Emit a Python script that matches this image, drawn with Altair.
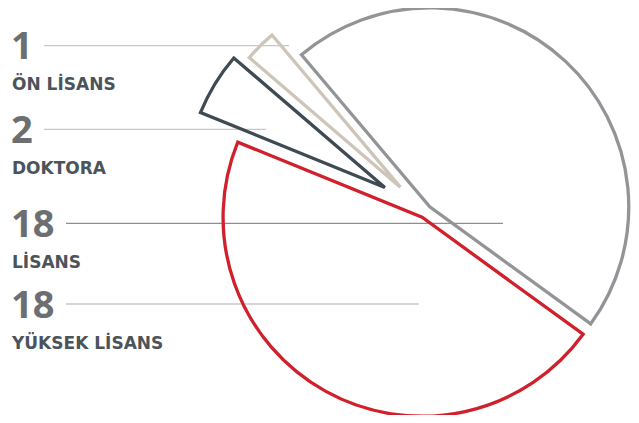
import math
import altair as alt
import pandas as pd

# ---------------- data ----------------
CATEGORIES = ["ÖN LİSANS", "DOKTORA", "LİSANS", "YÜKSEK LİSANS"]
VALUES = [1, 2, 18, 18]
VALUE_LABELS = ["1", "2", "18", "18"]

# ---------------- style ----------------
PIE_ORDER = ["YÜKSEK LİSANS", "DOKTORA", "ÖN LİSANS", "LİSANS"]  # clockwise from start angle
SLICE_COLORS = ["#cdc5b9", "#3f4a52", "#939497", "#d0202b"]      # per category
EXPLODE = [35, 47, 7, 6]                                          # per category, px
START_DEG = 126
PAD_TOP = 2
CX, CY, R = 417, 204 - PAD_TOP, 199
ROW_Y = [y - PAD_TOP for y in [37.7, 121.3, 215.3, 296]]
LINE_X0 = [36, 36, 58, 58]
LINE_X1 = [281, 258, 495, 411]
LINE_COLORS = ["#c8c8c8", "#c8c8c8", "#8e8e8e", "#c8c8c8"]
W, H = 623, 407 - PAD_TOP

total = sum(VALUES)
a0 = math.radians(START_DEG)

# pie table (order along the circle)
rows = []
cum = 0
for cat in PIE_ORDER:
    i = CATEGORIES.index(cat)
    v = VALUES[i]
    t0, t1 = cum, cum + v
    cum = t1
    mid = a0 + (t0 + t1) / 2 / total * 2 * math.pi
    rows.append({
        "cat": cat, "value": v, "t0": t0, "t1": t1,
        "px": CX + EXPLODE[i] * math.sin(mid),
        "py": CY - EXPLODE[i] * math.cos(mid),
    })
pie = pd.DataFrame(rows)

labels = pd.DataFrame({
    "cat": CATEGORIES,
    "num": VALUE_LABELS,
    "ly": ROW_Y,
    "x0": LINE_X0,
    "x1": LINE_X1,
    "lc": LINE_COLORS,
})

lines = alt.Chart(labels).mark_rule(strokeWidth=1.3).encode(
    x=alt.X("x0:Q", scale=None, axis=None),
    x2="x1:Q",
    y=alt.Y("ly:Q", scale=None, axis=None),
    color=alt.Color("lc:N", scale=None, legend=None),
)

arcs = alt.Chart(pie).mark_arc(
    outerRadius=R, fill="white", fillOpacity=0, strokeWidth=3.3, strokeJoin="miter"
).encode(
    theta=alt.Theta("t0:Q", scale=alt.Scale(domain=[0, total], range=[a0, a0 + 2 * math.pi])),
    theta2="t1:Q",
    x=alt.X("px:Q", scale=None, axis=None),
    y=alt.Y("py:Q", scale=None, axis=None),
    stroke=alt.Stroke("cat:N", scale=alt.Scale(domain=CATEGORIES, range=SLICE_COLORS), legend=None),
)

nums = alt.Chart(labels).mark_text(
    align="left", baseline="alphabetic", dy=13.5,
    font="Open Sans", fontSize=38, fontWeight="bold", color="#6d6e71",
).encode(
    x=alt.value(3),
    y=alt.Y("ly:Q", scale=None, axis=None),
    text="num:N",
)

cats = alt.Chart(labels).mark_text(
    align="left", baseline="alphabetic", dy=44.5,
    font="DejaVu Sans", fontSize=17, fontWeight="bold", color="#4b535b",
).encode(
    x=alt.value(4),
    y=alt.Y("ly:Q", scale=None, axis=None),
    text="cat:N",
)

chart = alt.layer(lines, arcs, nums, cats).properties(
    width=W, height=H, autosize=alt.AutoSizeParams(type="none"),
    padding={"left": 0, "top": PAD_TOP, "right": 0, "bottom": 0},
    background="white",
).configure_view(stroke=None)

chart.save("out.html", embed_options={"renderer": "svg", "actions": False})
